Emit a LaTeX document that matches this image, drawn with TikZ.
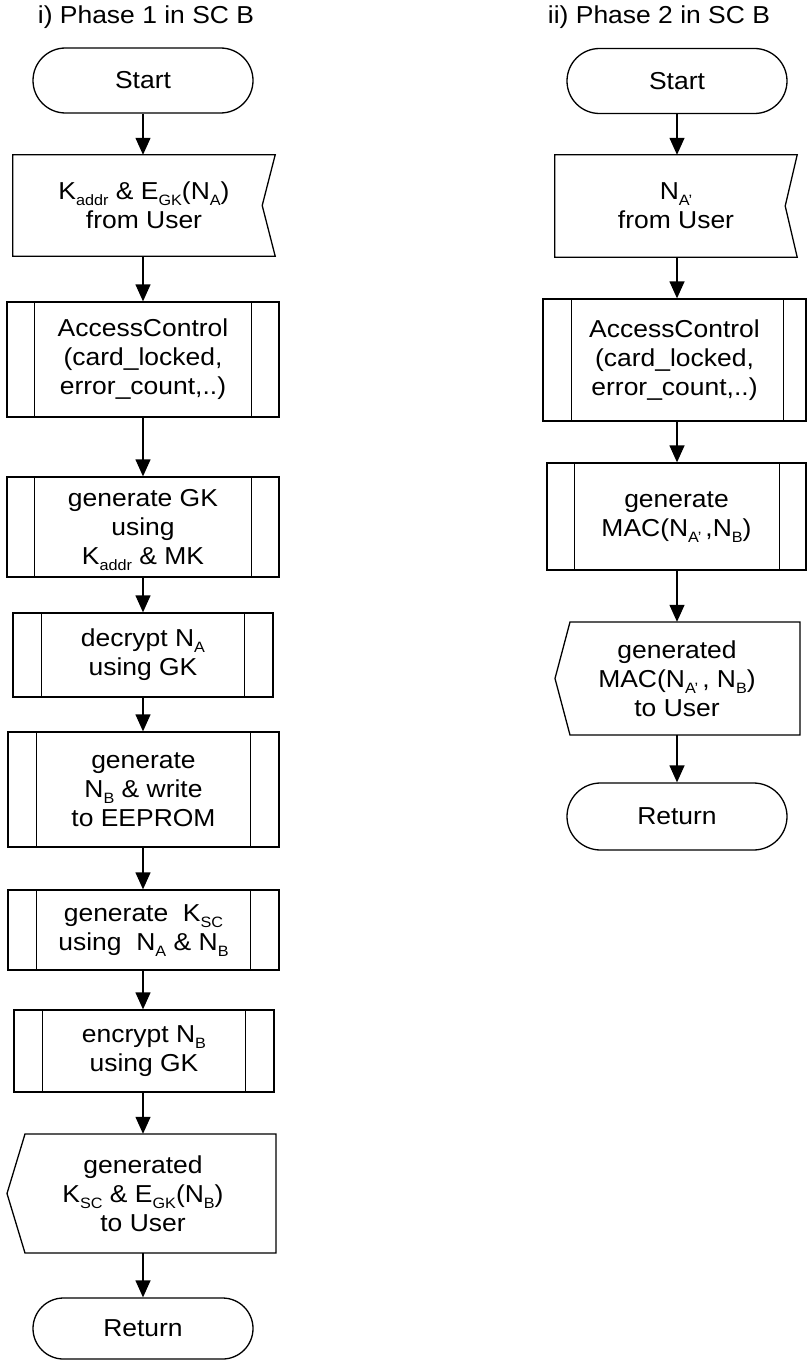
\documentclass[tikz,border=0pt]{standalone}
\usepackage{fontspec}
\setmainfont{Liberation Sans}[FakeStretch=1.08]
\usetikzlibrary{arrows.meta,shapes.misc}
% lowered small subscript that does not change the line height
\newcommand\lo[1]{\raisebox{-6pt}[0pt][0pt]{\fontsize{15}{15}\selectfont #1}}
\begin{document}
\begin{tikzpicture}[x=1pt,y=-1pt,
  every node/.style={font=\fontsize{24.5}{29}\selectfont, align=center, inner sep=0pt},
  lw/.style={line width=1.3pt},
  term/.style={lw, draw, rounded rectangle, minimum width=220pt, minimum height=#1},
  term/.default=65pt,
  sub/.style={lw, draw, rectangle, minimum width=#1},
  arr/.style={lw, -{Triangle[width=15pt,length=17pt]}}
]
\useasboundingbox (0,0) rectangle (807,1362);

% ---------- Phase 1 ----------
\node (t1) at (146,17) {i) Phase 1 in SC B};
\node[term] (s1) at (143,80.5) {Start};

\node[minimum width=262pt, minimum height=101pt] (in1) at (144,205.5)
  {K\lo{addr} \& E\lo{GK}(N\lo{A})\\from User};
\draw[lw] (in1.north west) -- (in1.north east) -- ([xshift=-13pt]in1.east)
  -- (in1.south east) -- (in1.south west) -- cycle;

\node[sub=272pt, minimum height=115pt] (ac1) at (143,359.5)
  {AccessControl\\(card\_locked,\\error\_count,..)};
\node[sub=272pt, minimum height=100pt] (gk1) at (143,527)
  {generate GK\\using\\K\lo{addr} \& MK};
\node[sub=260pt, minimum height=84pt] (dc1) at (143,655)
  {decrypt N\lo{A}\\using GK};
\node[sub=271pt, minimum height=115pt] (nb1) at (143.5,789.5)
  {generate\\N\lo{B} \& write\\to EEPROM};
\node[sub=271pt, minimum height=80pt] (ks1) at (143.5,930)
  {generate~~K\lo{SC}\\using~~N\lo{A} \& N\lo{B}};
\node[sub=260pt, minimum height=82pt] (en1) at (144,1051)
  {encrypt N\lo{B}\\using GK};

\foreach \n/\d in {ac1/28pt, gk1/28pt, dc1/29pt, nb1/29pt, ks1/29pt, en1/29pt}{
  \draw[lw] ([xshift=\d]\n.north west) -- ([xshift=\d]\n.south west);
  \draw[lw] ([xshift=-\d]\n.north east) -- ([xshift=-\d]\n.south east);
}

\node[minimum height=119pt] (ou1) at (143,1193.5)
  {generated\\K\lo{SC} \& E\lo{GK}(N\lo{B})\\to User};
\draw[lw] ([shift={(-118pt,59.5pt)}]ou1.center) -- ([shift={(133pt,59.5pt)}]ou1.center)
  -- ([shift={(133pt,-59.5pt)}]ou1.center) -- ([shift={(-118pt,-59.5pt)}]ou1.center)
  -- ([shift={(-136pt,0pt)}]ou1.center) -- cycle;

\node[term=61pt] (r1) at (143,1328.5) {Return};

\draw[arr] (s1.south) -- (s1.south |- in1.north);
\draw[arr] (in1.south -| s1.south) -- (s1.south |- ac1.north);
\draw[arr] (ac1.south) -- (ac1.south |- gk1.north);
\draw[arr] (gk1.south) -- (gk1.south |- dc1.north);
\draw[arr] (dc1.south) -- (dc1.south |- nb1.north);
\draw[arr] (nb1.south -| s1.south) -- (s1.south |- ks1.north);
\draw[arr] (ks1.south -| s1.south) -- (s1.south |- en1.north);
\draw[arr] (en1.south -| s1.south) -- (s1.south |- ou1.north);
\draw[arr] (ou1.south) -- (ou1.south |- r1.north);

% ---------- Phase 2 ----------
\node (t2) at (659,17) {ii) Phase 2 in SC B};
\node[term] (s2) at (677,81) {Start};

\node[minimum width=242pt, minimum height=102pt] (in2) at (676,206)
  {N\lo{A'}\\from User};
\draw[lw] (in2.north west) -- (in2.north east) -- ([xshift=-12pt]in2.east)
  -- (in2.south east) -- (in2.south west) -- cycle;

\node[sub=263pt, minimum height=122pt] (ac2) at (674.5,360)
  {AccessControl\\(card\_locked,\\error\_count,..)};
\node[sub=259pt, minimum height=107pt] (mc2) at (676.5,516.5)
  {generate\\MAC(N\lo{A'}\,,N\lo{B})};

\draw[lw] ([xshift=29pt]ac2.north west) -- ([xshift=29pt]ac2.south west);
\draw[lw] ([xshift=-23pt]ac2.north east) -- ([xshift=-23pt]ac2.south east);
\draw[lw] ([xshift=28pt]mc2.north west) -- ([xshift=28pt]mc2.south west);
\draw[lw] ([xshift=-27pt]mc2.north east) -- ([xshift=-27pt]mc2.south east);

\node[minimum height=113pt] (ou2) at (677,678.5)
  {generated\\MAC(N\lo{A'}\,, N\lo{B})\\to User};
\draw[lw] ([shift={(-107pt,56.5pt)}]ou2.center) -- ([shift={(123pt,56.5pt)}]ou2.center)
  -- ([shift={(123pt,-56.5pt)}]ou2.center) -- ([shift={(-107pt,-56.5pt)}]ou2.center)
  -- ([shift={(-122pt,0pt)}]ou2.center) -- cycle;

\node[term=67pt] (r2) at (677,816.5) {Return};

\draw[arr] (s2.south) -- (s2.south |- in2.north);
\draw[arr] (in2.south -| s2.south) -- (s2.south |- ac2.north);
\draw[arr] (ac2.south -| s2.south) -- (s2.south |- mc2.north);
\draw[arr] (mc2.south -| s2.south) -- (s2.south |- ou2.north);
\draw[arr] (ou2.south) -- (ou2.south |- r2.north);
\end{tikzpicture}
\end{document}
